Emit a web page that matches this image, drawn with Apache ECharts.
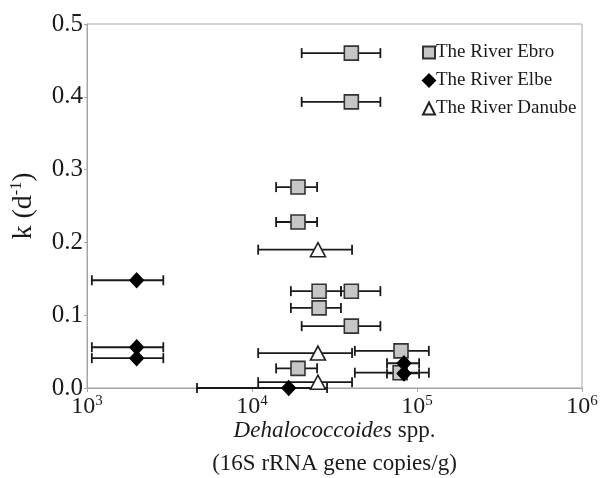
<!DOCTYPE html>
<html>
<head>
<meta charset="utf-8">
<script src="https://cdn.jsdelivr.net/npm/echarts@6/dist/echarts.min.js"></script>
<style>
  html, body { margin: 0; padding: 0; background: #fff; }
  #chart { width: 603px; height: 478px; }
</style>
</head>
<body>
<div id="chart"></div>
<script>
// Dechlorination rate constant k vs Dehalococcoides abundance, three rivers.
// Each point: abundance (copies/g) with lower/upper range, and k (d^-1).
const ebroCopies = [40000, 40000, 19000, 19000, 25500, 40000, 25500, 40000, 80000, 19000, 79000];
const ebroLow    = [20000, 20000, 14000, 14000, 17200, 34600, 17200, 20000, 42000, 14000, 42000];
const ebroHigh   = [60000, 60000, 24800, 24800, 34600, 60000, 34600, 60000, 118000, 24800, 118000];
const ebroK      = [0.46, 0.393, 0.276, 0.228, 0.133, 0.133, 0.11, 0.085, 0.051, 0.027, 0.021];

const elbeCopies = [2000, 2000, 2000, 16700, 83400, 83400];
const elbeLow    = [1070, 1070, 1070, 4640, 65800, 65800];
const elbeHigh   = [2900, 2900, 2900, 28500, 103000, 103000];
const elbeK      = [0.148, 0.056, 0.041, 0.0, 0.034, 0.02];

const danubeCopies = [25100, 25100, 25100];
const danubeLow    = [10900, 10900, 10900];
const danubeHigh   = [40400, 40400, 40400];
const danubeK      = [0.19, 0.048, 0.008];

const yTicks = [0, 0.1, 0.2, 0.3, 0.4, 0.5];
const xExponents = [3, 4, 5, 6];

const seriesNames = ['The River Ebro', 'The River Elbe', 'The River Danube'];

const FONT = 'Liberation Serif';
const INK = '#1a1a1a';
const AXIS_GRAY = '#aaa3a3';

function points(x, k) {
  return x.map((v, i) => [v, k[i]]);
}
function ranges(lo, hi, k) {
  return lo.map((v, i) => [v, hi[i], k[i]]);
}

// Horizontal error bar with end caps, placed through the axes' coordinate system.
function errorBar(params, api) {
  const y = api.value(2);
  const a = api.coord([api.value(0), y]);
  const b = api.coord([api.value(1), y]);
  const cap = 5;
  const style = { stroke: INK, lineWidth: 1.8, fill: null };
  return {
    type: 'group',
    children: [
      { type: 'line', shape: { x1: a[0], y1: a[1], x2: b[0], y2: b[1] }, style },
      { type: 'line', shape: { x1: a[0], y1: a[1] - cap, x2: a[0], y2: a[1] + cap }, style },
      { type: 'line', shape: { x1: b[0], y1: b[1] - cap, x2: b[0], y2: b[1] + cap }, style }
    ]
  };
}

function barSeries(name, data) {
  return {
    name: name + ' range',
    type: 'custom',
    renderItem: errorBar,
    data: data,
    encode: { x: [0, 1], y: 2 },
    z: 1,
    silent: true
  };
}

const chart = echarts.init(document.getElementById('chart'), null, { renderer: 'canvas' });

chart.setOption({
  animation: false,
  backgroundColor: '#fff',
  textStyle: { fontFamily: FONT, color: INK },
  grid: {
    left: 87, right: 21, top: 24, bottom: 90,
    outerBoundsMode: 'none',
    containLabel: false,
    show: true, borderColor: AXIS_GRAY, borderWidth: 1
  },
  legend: {
    data: seriesNames,
    orient: 'vertical',
    left: 417, top: 38,
    itemWidth: 12, itemHeight: 12, itemGap: 9,
    textStyle: { fontFamily: FONT, fontSize: 19, color: INK, padding: [0, 0, 0, -4] },
    selectedMode: false
  },
  xAxis: {
    type: 'log',
    logBase: 10,
    min: 1000, max: 1000000,
    name: '{i|Dehalococcoides} spp.\n(16S rRNA gene copies/g)',
    nameLocation: 'middle',
    nameMoveOverlap: false,
    nameGap: 26,
    nameTextStyle: {
      fontFamily: FONT, fontSize: 23, color: INK, lineHeight: 33, verticalAlign: 'top',
      rich: { i: { fontFamily: FONT, fontSize: 23, fontStyle: 'italic', color: INK, lineHeight: 33 } }
    },
    axisLine: { show: true, lineStyle: { color: AXIS_GRAY, width: 1 } },
    axisTick: { show: true, length: 4, lineStyle: { color: AXIS_GRAY } },
    splitLine: { show: false },
    minorTick: { show: false },
    axisLabel: {
      margin: 6,
      fontFamily: FONT, fontSize: 24, color: INK,
      formatter: function (v) {
        const e = Math.round(Math.log10(v));
        return xExponents.indexOf(e) >= 0 ? '10{sup|' + e + '}' : '';
      },
      rich: {
        sup: { fontFamily: FONT, fontSize: 15, color: INK, verticalAlign: 'bottom', padding: [0, 0, 10, 0] }
      }
    }
  },
  yAxis: {
    type: 'value',
    min: 0, max: 0.5, interval: 0.1,
    name: 'k (d{sup|-1})',
    nameLocation: 'middle',
    nameMoveOverlap: false,
    nameRotate: 90,
    nameGap: 49,
    nameTextStyle: {
      fontFamily: FONT, fontSize: 28, color: INK,
      rich: { sup: { fontFamily: FONT, fontSize: 16, color: INK, verticalAlign: 'bottom', padding: [0, 0, 13, 0] } }
    },
    axisLine: { show: true, lineStyle: { color: AXIS_GRAY, width: 1 } },
    axisTick: { show: true, length: 3, lineStyle: { color: AXIS_GRAY } },
    splitLine: { show: false },
    axisLabel: {
      margin: 4,
      fontFamily: FONT, fontSize: 25, color: INK,
      formatter: function (v) {
        return yTicks.some(t => Math.abs(t - v) < 1e-9) ? v.toFixed(1) : '';
      }
    }
  },
  series: [
    barSeries(seriesNames[0], ranges(ebroLow, ebroHigh, ebroK)),
    barSeries(seriesNames[1], ranges(elbeLow, elbeHigh, elbeK)),
    barSeries(seriesNames[2], ranges(danubeLow, danubeHigh, danubeK)),
    {
      name: seriesNames[0],
      type: 'scatter',
      data: points(ebroCopies, ebroK),
      symbol: 'rect',
      symbolSize: 14,
      itemStyle: { color: '#c6c6c6', borderColor: '#333', borderWidth: 1.6, opacity: 1 },
      z: 3,
      clip: false
    },
    {
      name: seriesNames[1],
      type: 'scatter',
      data: points(elbeCopies, elbeK),
      symbol: 'diamond',
      symbolSize: [14, 15],
      itemStyle: { color: '#000', borderColor: '#000', borderWidth: 1, opacity: 1 },
      z: 4,
      clip: false
    },
    {
      name: seriesNames[2],
      type: 'scatter',
      data: points(danubeCopies, danubeK),
      symbol: 'triangle',
      symbolSize: [15, 14],
      itemStyle: { color: '#fff', borderColor: '#222', borderWidth: 1.6, opacity: 1 },
      z: 3,
      clip: false
    }
  ]
});
</script>
</body>
</html>
